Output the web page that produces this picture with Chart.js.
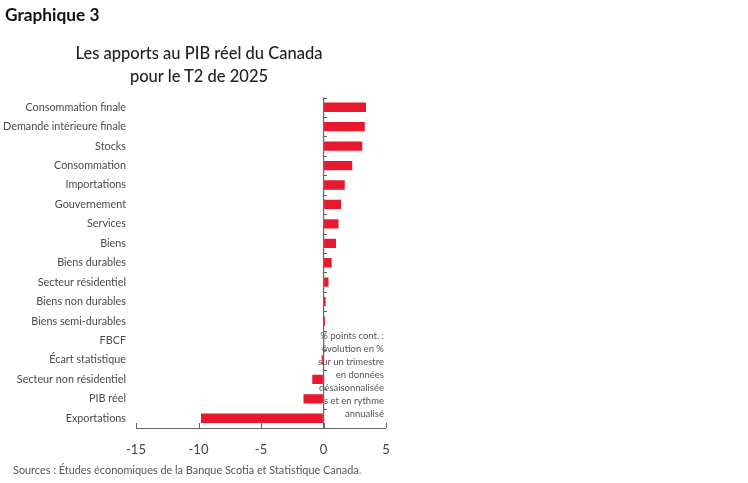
<!DOCTYPE html>
<html lang="fr">
<head>
<meta charset="utf-8">
<script src="https://cdn.jsdelivr.net/npm/chart.js@4.4.1/dist/chart.umd.min.js"></script>
<style>
  html, body { margin: 0; padding: 0; background: #fff; }
  #wrap { position: relative; width: 748px; height: 483px; font-family: Lato, "Noto Sans", sans-serif; }
  #c { position: absolute; left: 0; top: 0; }
  .t { position: absolute; white-space: nowrap; }
  #g3 { left: 5px; top: 4px; font-size: 17.3px; font-weight: 700; color: #111; }
  #title { left: 0; width: 398px; top: 42px; text-align: center; font-size: 16.5px; line-height: 23px; color: #222; font-weight: 500; }
  #note { right: 364px; top: 329px; text-align: right; font-size: 9.5px; line-height: 13px; color: #555; }
  #src { left: 13px; top: 463px; font-size: 10.9px; color: #555; }
</style>
</head>
<body>
<div id="wrap">
  <canvas id="c" width="748" height="483"></canvas>
  <div class="t" id="g3">Graphique 3</div>
  <div class="t" id="title">Les apports au PIB réel du Canada<br>pour le T2 de 2025</div>
  <div class="t" id="note">% points cont. :<br>évolution en %<br>sur un trimestre<br>en données<br>désaisonnalisée<br>s et en rythme<br>annualisé</div>
  <div class="t" id="src">Sources : Études économiques de la Banque Scotia et Statistique Canada.</div>
</div>
<script>
const categories = [
  "Consommation finale", "Demande intérieure finale", "Stocks", "Consommation",
  "Importations", "Gouvernement", "Services", "Biens", "Biens durables",
  "Secteur résidentiel", "Biens non durables", "Biens semi-durables", "FBCF",
  "Écart statistique", "Secteur non résidentiel", "PIB réel", "Exportations"
];
const contributions = [3.4, 3.3, 3.1, 2.3, 1.7, 1.4, 1.2, 1.0, 0.65, 0.4, 0.17, 0.12, 0.02, -0.15, -0.9, -1.6, -9.8];
const xTicks = [-15, -10, -5, 0, 5];

const axisMarks = {
  id: 'axisMarks',
  afterDraw(chart) {
    const ctx = chart.ctx, x = chart.scales.x, y = chart.scales.y, a = chart.chartArea;
    ctx.save();
    ctx.strokeStyle = '#666';
    ctx.lineWidth = 1;
    xTicks.forEach(v => {
      const px = Math.round(x.getPixelForValue(v)) + 0.5;
      ctx.beginPath(); ctx.moveTo(px, a.bottom); ctx.lineTo(px, a.bottom - 5); ctx.stroke();
    });
    const zx = x.getPixelForValue(0);
    for (let i = -0.5; i <= categories.length - 0.5; i += 1) {
      const py = Math.round(y.getPixelForValue(i)) + 0.5;
      ctx.beginPath(); ctx.moveTo(zx, py); ctx.lineTo(zx + 3.5, py); ctx.stroke();
    }
    ctx.restore();
  }
};

new Chart(document.getElementById('c'), {
  type: 'bar',
  data: {
    labels: categories,
    datasets: [{
      data: contributions,
      backgroundColor: '#E8192F',
      borderWidth: 0,
      barPercentage: 0.48,
      categoryPercentage: 1.0
    }]
  },
  options: {
    indexAxis: 'y',
    responsive: false,
    animation: false,
    devicePixelRatio: 1,
    layout: { padding: { top: 97.5, right: 362, bottom: 25, left: 0 } },
    plugins: { legend: { display: false }, tooltip: { enabled: false }, title: { display: false } },
    scales: {
      x: {
        min: -15, max: 5,
        afterBuildTicks(s) { s.ticks = xTicks.map(v => ({ value: v })); },
        afterFit(s) { s.height = 30; },
        border: { display: true, color: '#666', width: 1 },
        grid: {
          drawTicks: false,
          color: c => (c.tick && c.tick.value === 0) ? '#666' : 'rgba(0,0,0,0)',
          lineWidth: 1.2
        },
        ticks: { padding: 14, color: '#444', font: { family: 'Lato', size: 13 } }
      },
      y: {
        afterFit(s) { s.width = 136; },
        border: { display: false },
        grid: { display: false, drawTicks: false },
        ticks: { padding: 10, color: '#4a4a4a', font: { family: 'Lato', size: 10.8 }, autoSkip: false }
      }
    }
  },
  plugins: [axisMarks]
});
</script>
</body>
</html>
